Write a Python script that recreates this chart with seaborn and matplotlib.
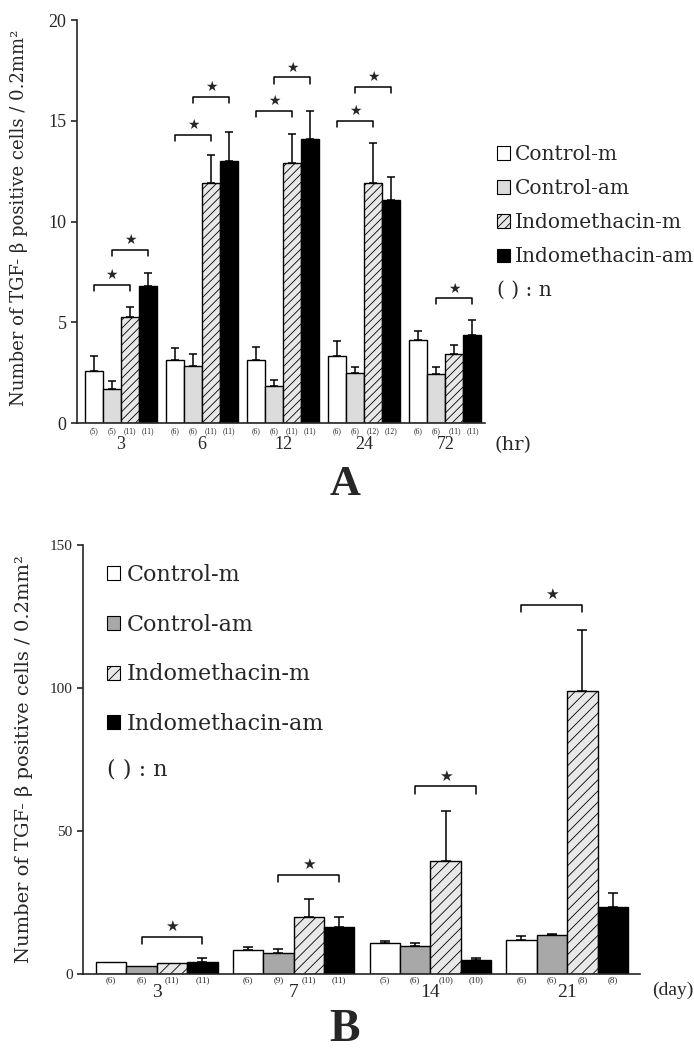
import numpy as np
import pandas as pd
import matplotlib
matplotlib.use("Agg")
import matplotlib.pyplot as plt
import seaborn as sns
from matplotlib.patches import Patch

# ---------------- data ----------------
groups = ["Control-m", "Control-am", "Indomethacin-m", "Indomethacin-am"]

# Panel A (hours)
a_times = ["3", "6", "12", "24", "72"]
a_control_m = [2.6, 3.15, 3.15, 3.35, 4.15]
a_control_m_err = [0.75, 0.6, 0.65, 0.75, 0.45]
a_control_am = [1.7, 2.85, 1.87, 2.48, 2.45]
a_control_am_err = [0.4, 0.6, 0.28, 0.3, 0.33]
a_indo_m = [5.25, 11.9, 12.9, 11.9, 3.45]
a_indo_m_err = [0.5, 1.4, 1.45, 2.0, 0.42]
a_indo_am = [6.8, 13.0, 14.1, 11.05, 4.4]
a_indo_am_err = [0.65, 1.45, 1.4, 1.15, 0.72]
a_n_control_m = ["(5)", "(6)", "(6)", "(6)", "(6)"]
a_n_control_am = ["(5)", "(6)", "(6)", "(6)", "(6)"]
a_n_indo_m = ["(11)", "(11)", "(11)", "(12)", "(11)"]
a_n_indo_am = ["(11)", "(11)", "(11)", "(12)", "(11)"]
a_bracket_time = ["3", "3", "6", "6", "12", "12", "24", "24", "72"]
a_bracket_from = [0, 1, 0, 1, 0, 1, 0, 1, 1]
a_bracket_to = [2, 3, 2, 3, 2, 3, 2, 3, 3]
a_bracket_y = [6.85, 8.6, 14.3, 16.2, 15.5, 17.15, 15.0, 16.7, 6.2]

# Panel B (days)
b_days = ["3", "7", "14", "21"]
b_control_m = [4.2, 8.5, 10.8, 12.0]
b_control_m_err = [0.0, 1.1, 0.6, 1.2]
b_control_am = [2.8, 7.3, 9.7, 13.8]
b_control_am_err = [0.0, 1.3, 1.1, 0.3]
b_indo_m = [4.0, 19.9, 39.6, 99.0]
b_indo_m_err = [0.0, 6.4, 17.5, 21.3]
b_indo_am = [4.3, 16.3, 5.0, 23.6]
b_indo_am_err = [1.2, 3.6, 0.6, 4.9]
b_n_control_m = ["(6)", "(6)", "(5)", "(6)"]
b_n_control_am = ["(6)", "(9)", "(6)", "(6)"]
b_n_indo_m = ["(11)", "(11)", "(10)", "(8)"]
b_n_indo_am = ["(11)", "(11)", "(10)", "(8)"]
b_bracket_day = ["3", "7", "14", "21"]
b_bracket_from = [1, 1, 1, 0]
b_bracket_to = [3, 3, 3, 2]
b_bracket_y = [12.9, 34.7, 65.6, 129.0]

# ---------------- style ----------------
sns.set_style("ticks")
plt.rcParams["font.family"] = ["Liberation Serif", "DejaVu Sans"]
plt.rcParams["hatch.linewidth"] = 0.6
plt.rcParams["axes.linewidth"] = 1.2
WIDE = ["DejaVu Serif", "DejaVu Sans"]

ylabel = "Number of TGF- β positive cells / 0.2mm²"


def long_df(cats, series):
    rows = []
    for g, vals in zip(groups, series):
        for c, v in zip(cats, vals):
            rows.append({"cat": c, "group": g, "value": v})
    return pd.DataFrame(rows)


def draw_panel(ax, cats, series, errs, ns, palette, hatch, br_cat, br_from, br_to, br_y,
               tick_d, n_y, n_fs, star_fs, cap):
    df = long_df(cats, series)
    sns.barplot(data=df, x="cat", y="value", hue="group", order=cats, hue_order=groups,
                palette=palette, width=0.89, gap=0, errorbar=None, edgecolor="black",
                linewidth=1.0, legend=False, ax=ax)
    bar_conts = list(ax.containers)[:4]
    for p in bar_conts[2]:
        p.set_hatch(hatch)
    centers = []
    for i, cont in enumerate(bar_conts):
        xs = np.array([p.get_x() + p.get_width() / 2 for p in cont])
        centers.append(xs)
        vals = np.array(series[i])
        e = np.array(errs[i])
        m = e > 0
        ax.errorbar(xs[m], vals[m], yerr=[np.zeros(m.sum()), e[m]], fmt="none",
                    ecolor="black", elinewidth=1.1, capsize=cap, capthick=1.1, zorder=5)
        for x, lab in zip(xs, ns[i]):
            ax.text(x, n_y, lab, transform=ax.get_xaxis_transform(), ha="center",
                    va="center", fontsize=n_fs)
    for c, f, t, y in zip(br_cat, br_from, br_to, br_y):
        k = cats.index(c)
        x1, x2 = centers[f][k], centers[t][k]
        ax.plot([x1, x1, x2, x2], [y - tick_d, y, y, y - tick_d], color="black", lw=1.1)
        ax.annotate("★", xy=((x1 + x2) / 2, y), xytext=(0, 2), textcoords="offset points",
                    ha="center", va="bottom", fontsize=star_fs, family="DejaVu Sans")
    sns.despine(ax=ax)
    ax.tick_params(axis="x", length=0)
    ax.tick_params(axis="y", length=4, width=1.2)
    ax.set_xlabel("")


fig = plt.figure(figsize=(6.94, 10.53), dpi=100)

# Panel A
axA = fig.add_axes([0.111, 0.598, 0.588, 0.383])
palA = ["white", "#dcdcdc", "#e8e8e8", "black"]
draw_panel(axA, a_times,
           [a_control_m, a_control_am, a_indo_m, a_indo_am],
           [a_control_m_err, a_control_am_err, a_indo_m_err, a_indo_am_err],
           [a_n_control_m, a_n_control_am, a_n_indo_m, a_n_indo_am],
           palA, "////", a_bracket_time, a_bracket_from, a_bracket_to, a_bracket_y,
           tick_d=0.3, n_y=-0.02, n_fs=5.5, star_fs=10, cap=3)
axA.set_ylim(0, 20)
axA.set_xlim(-0.54, 4.49)
axA.set_yticks([0, 5, 10, 15, 20])
axA.tick_params(axis="y", labelsize=13)
axA.tick_params(axis="x", labelsize=13, pad=9)
axA.set_ylabel(ylabel, fontsize=13, family=WIDE)
axA.yaxis.set_label_coords(-0.12, 0.51)
handlesA = [Patch(facecolor=palA[i], edgecolor="black", lw=0.8,
                  hatch=("////" if i == 2 else None)) for i in range(4)]
axA.legend(handlesA, groups, loc="upper left", bbox_to_anchor=(1.03, 0.69),
           frameon=False, borderaxespad=0, borderpad=0,
           prop={"family": WIDE, "size": 14.5},
           handlelength=0.65, handleheight=0.65, handletextpad=0.2, labelspacing=0.75)
axA.text(1.03, 0.33, "( ) : n", transform=axA.transAxes, fontsize=14.5, va="center",
         family=WIDE)
fig.text(495 / 694, 1 - 445 / 1053, "(hr)", fontsize=14, va="center", family=WIDE)
fig.text(345 / 694, 1 - 485 / 1053, "A", fontsize=31, fontweight="bold",
         ha="center", va="center")

# Panel B
axB = fig.add_axes([0.1196, 0.075, 0.802, 0.4074])
palB = ["white", "#a8a8a8", "#e8e8e8", "black"]
draw_panel(axB, b_days,
           [b_control_m, b_control_am, b_indo_m, b_indo_am],
           [b_control_m_err, b_control_am_err, b_indo_m_err, b_indo_am_err],
           [b_n_control_m, b_n_control_am, b_n_indo_m, b_n_indo_am],
           palB, "///", b_bracket_day, b_bracket_from, b_bracket_to, b_bracket_y,
           tick_d=2.5, n_y=-0.014, n_fs=6.5, star_fs=11, cap=3.5)
axB.set_ylim(0, 150)
axB.set_xlim(-0.54, 3.53)
axB.set_yticks([0, 50, 100, 150])
axB.tick_params(axis="y", labelsize=11)
axB.tick_params(axis="x", labelsize=14, pad=7)
axB.set_ylabel(ylabel, fontsize=14, family=WIDE)
axB.yaxis.set_label_coords(-0.09, 0.5)
handlesB = [Patch(facecolor=palB[i], edgecolor="black", lw=0.8,
                  hatch=("///" if i == 2 else None)) for i in range(4)]
axB.legend(handlesB, groups, loc="upper left", bbox_to_anchor=(0.043, 0.956),
           frameon=False, borderaxespad=0, borderpad=0,
           prop={"family": WIDE, "size": 16},
           handlelength=0.6, handleheight=0.6, handletextpad=0.3, labelspacing=1.25)
axB.text(0.043, 0.476, "( ) : n", transform=axB.transAxes, fontsize=16, va="center",
         family=WIDE)
fig.text(652 / 694, 1 - 990 / 1053, "(day)", fontsize=14, va="center")
fig.text(345 / 694, 1 - 1030 / 1053, "B", fontsize=33, fontweight="bold",
         ha="center", va="center")

fig.savefig("out.png", dpi=100, facecolor="white")
